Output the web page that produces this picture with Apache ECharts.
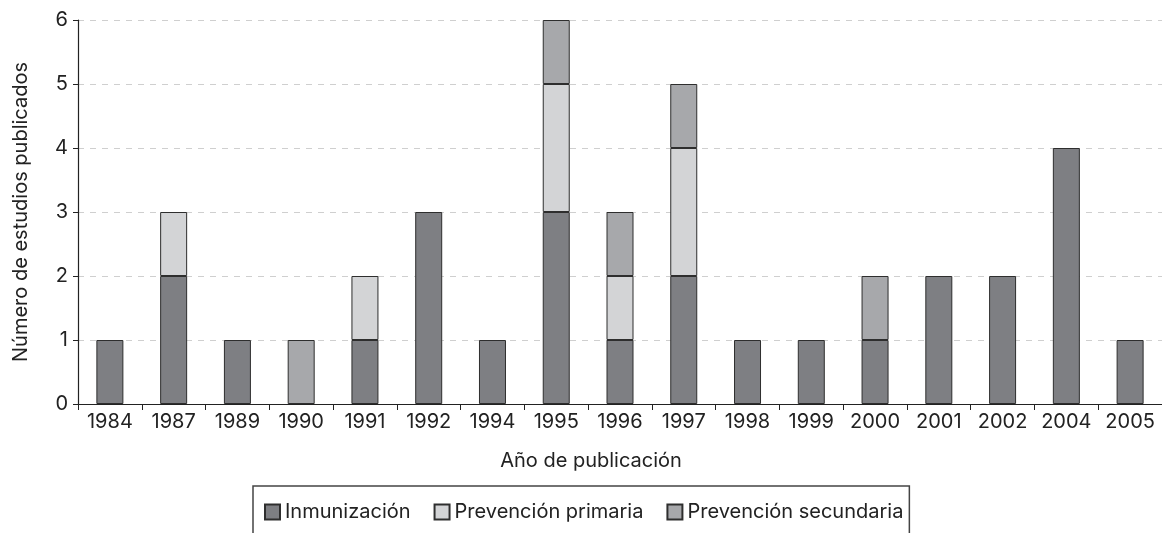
<!DOCTYPE html>
<html>
<head>
<meta charset="utf-8">
<script src="https://cdn.jsdelivr.net/npm/echarts@6/dist/echarts.min.js"></script>
<style>
  html, body { margin: 0; padding: 0; background: #fff; }
  #chart { width: 1162px; height: 533px; }
</style>
</head>
<body>
<div id="chart"></div>
<script>
var years = ["1984", "1987", "1989", "1990", "1991", "1992", "1994", "1995", "1996",
  "1997", "1998", "1999", "2000", "2001", "2002", "2004", "2005"];
var inmunizacion = [1, 2, 1, 0, 1, 3, 1, 3, 1, 2, 1, 1, 1, 2, 2, 4, 1];
var primaria     = [0, 1, 0, 0, 1, 0, 0, 2, 1, 2, 0, 0, 0, 0, 0, 0, 0];
var secundaria   = [0, 0, 0, 1, 0, 0, 0, 1, 1, 1, 0, 0, 1, 0, 0, 0, 0];
var yTicks = [0, 1, 2, 3, 4, 5, 6];

var font = "Inter, 'Liberation Sans', sans-serif";

function series(name, values, color) {
  return {
    name: name,
    type: "bar",
    stack: "total",
    barWidth: 27,
    data: values.map(function (v) { return v ? v : "-"; }),
    itemStyle: { color: color, borderColor: "#2e2e2e", borderWidth: 1 },
  };
}

var myChart = echarts.init(document.getElementById("chart"));
var option = {
  animation: false,
  textStyle: { fontFamily: font },
  grid: { left: 78, right: 0, top: 20, bottom: 129 },
  legend: {
    left: 253,
    top: 486,
    padding: [16, 6, 26, 11],
    borderColor: "#444",
    borderWidth: 1.5,
    icon: "rect",
    itemWidth: 15,
    itemHeight: 15,
    itemGap: 23,
    textStyle: { fontSize: 20, color: "#222", fontFamily: font },
    data: ["Inmunización", "Prevención primaria", "Prevención secundaria"],
  },
  xAxis: {
    type: "category",
    data: years,
    name: "Año de publicación",
    nameLocation: "middle",
    nameGap: 47,
    nameTextStyle: { fontSize: 20, color: "#222", padding: [0, 58, 0, 0] },
    axisLine: { lineStyle: { color: "#222", width: 1.2 } },
    axisTick: { show: true, length: 6, lineStyle: { color: "#222" } },
    axisLabel: { fontSize: 20, color: "#222", margin: 8, interval: 0, hideOverlap: false },
  },
  yAxis: {
    type: "value",
    min: yTicks[0],
    max: yTicks[yTicks.length - 1],
    interval: 1,
    name: "Número de estudios publicados",
    nameLocation: "middle",
    nameGap: 47,
    nameTextStyle: { fontSize: 20, color: "#222" },
    axisLine: { show: true, lineStyle: { color: "#222", width: 1.2 } },
    axisTick: { show: true, length: 5, lineStyle: { color: "#222" } },
    axisLabel: { fontSize: 20, color: "#222", margin: 10 },
    splitLine: { lineStyle: { color: "#cfcfcf", type: [6, 6], width: 1 } },
  },
  series: [
    series("Inmunización", inmunizacion, "#7e7f83"),
    series("Prevención primaria", primaria, "#d3d4d6"),
    series("Prevención secundaria", secundaria, "#a7a8ab"),
  ],
};
myChart.setOption(option);
</script>
</body>
</html>
